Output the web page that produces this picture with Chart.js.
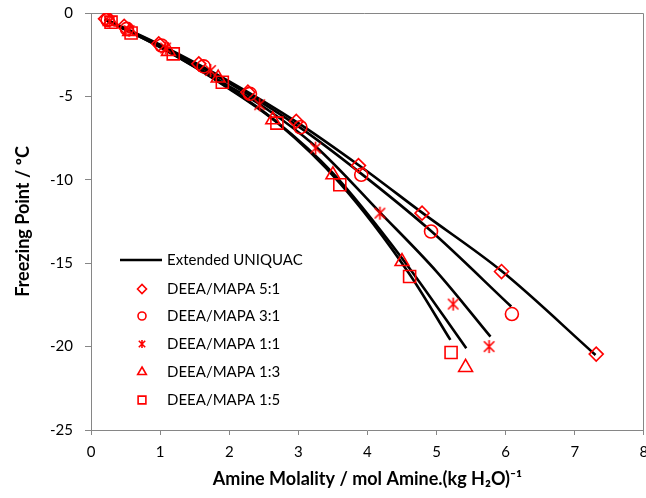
<!DOCTYPE html>
<html>
<head>
<meta charset="utf-8">
<script src="https://cdn.jsdelivr.net/npm/chart.js@4/dist/chart.umd.min.js"></script>
<style>
  html, body { margin: 0; padding: 0; background: #fff; overflow: hidden; }
  #wrap { width: 654px; height: 498px; }
</style>
</head>
<body>
<div id="wrap"><canvas id="chart" width="654" height="498"></canvas></div>
<script>
// Measured points (molality, freezing point)
const x51 = [0.21, 0.48, 0.98, 1.56, 2.27, 2.97, 3.87, 4.79, 5.94, 7.31];
const y51 = [-0.35, -0.8, -1.85, -3.05, -4.75, -6.5, -9.15, -12.0, -15.5, -20.45];
const x31 = [0.24, 0.52, 1.02, 1.63, 2.3, 3.03, 3.91, 4.92, 6.09];
const y31 = [-0.42, -0.95, -1.95, -3.2, -4.85, -6.85, -9.7, -13.1, -18.05];
const x11 = [0.27, 0.55, 1.08, 1.73, 2.44, 3.25, 4.18, 5.24, 5.76];
const y11 = [-0.5, -1.05, -2.1, -3.45, -5.5, -8.1, -12.0, -17.45, -20.0];
const x13 = [0.28, 0.56, 1.12, 1.84, 2.63, 3.5, 4.5, 5.42];
const y13 = [-0.5, -1.1, -2.3, -3.9, -6.4, -9.7, -14.9, -21.25];
const x15 = [0.29, 0.58, 1.19, 1.9, 2.69, 3.6, 4.61, 5.21];
const y15 = [-0.55, -1.2, -2.45, -4.15, -6.6, -10.3, -15.8, -20.35];

// Extended UNIQUAC model curves
const mx51 = [0.2, 1.0, 2.0, 3.0, 3.9, 4.8, 5.95, 7.3];
const my51 = [-0.35, -1.9, -4.1, -6.6, -9.2, -12.0, -15.5, -20.5];
const mx31 = [0.2, 1.0, 2.0, 3.0, 3.9, 4.9, 6.08];
const my31 = [-0.38, -1.95, -4.2, -6.8, -9.6, -13.0, -17.6];
const mx11 = [0.2, 1.0, 2.0, 2.45, 3.25, 4.18, 5.0, 5.78];
const my11 = [-0.4, -2.0, -4.4, -5.5, -8.0, -11.95, -15.5, -19.4];
const mx13 = [0.2, 1.0, 2.0, 2.65, 3.5, 4.5, 5.43];
const my13 = [-0.4, -2.05, -4.5, -6.4, -9.6, -14.7, -20.1];
const mx15 = [0.2, 1.0, 2.0, 2.7, 3.6, 4.6, 5.2];
const my15 = [-0.4, -2.05, -4.55, -6.6, -10.2, -15.6, -19.6];

const seriesNames = ['DEEA/MAPA 5:1', 'DEEA/MAPA 3:1', 'DEEA/MAPA 1:1', 'DEEA/MAPA 1:3', 'DEEA/MAPA 1:5'];
const modelName = 'Extended UNIQUAC';

const red = '#FF0000';
const axisGray = '#868686';

const toPts = (xs, ys) => xs.map((x, i) => ({ x: x, y: ys[i] }));

// Excel-style asterisk marker (X with a vertical bar)
function makeStar(size, lw) {
    const c = document.createElement('canvas');
    c.width = size; c.height = size;
    const g = c.getContext('2d');
    g.strokeStyle = red;
    g.lineWidth = lw;
    const m = size / 2, r = size / 2 - 1;
    g.beginPath();
    g.moveTo(m, m - r); g.lineTo(m, m + r);
    g.moveTo(m - r * 0.8, m - r * 0.8); g.lineTo(m + r * 0.8, m + r * 0.8);
    g.moveTo(m + r * 0.8, m - r * 0.8); g.lineTo(m - r * 0.8, m + r * 0.8);
    g.stroke();
    return c;
}
const starBig = makeStar(15, 1.6);
const starSmall = makeStar(10, 1.6);

const markerStyles = [
    { style: 'rectRot', radius: 7, legendStyle: 'rectRot', legendRadius: 4.5 },
    { style: 'circle', radius: 6.5, legendStyle: 'circle', legendRadius: 4 },
    { style: starBig, radius: 7, legendStyle: starSmall, legendRadius: 4 },
    { style: 'triangle', radius: 8, legendStyle: 'triangle', legendRadius: 5 },
    { style: 'rect', radius: 8.5, legendStyle: 'rect', legendRadius: 5.5 }
];

const measured = [toPts(x51, y51), toPts(x31, y31), toPts(x11, y11), toPts(x13, y13), toPts(x15, y15)];
const model = [toPts(mx51, my51), toPts(mx31, my31), toPts(mx11, my11), toPts(mx13, my13), toPts(mx15, my15)];

const datasets = [];
measured.forEach((pts, i) => {
    datasets.push({
        label: seriesNames[i],
        data: pts,
        showLine: false,
        pointStyle: markerStyles[i].style,
        pointRadius: markerStyles[i].radius,
        pointBorderColor: red,
        pointBackgroundColor: 'rgba(0,0,0,0)',
        pointBorderWidth: 1.6,
        order: 1
    });
});
model.forEach((pts) => {
    datasets.push({
        label: modelName,
        data: pts,
        showLine: true,
        borderColor: '#000',
        borderWidth: 2.6,
        pointRadius: 0,
        cubicInterpolationMode: 'monotone',
        order: 2
    });
});

// top and right frame lines of the plot area
const framePlugin = {
    id: 'frame',
    beforeDatasetsDraw(chart) {
        const a = chart.chartArea;
        const ctx = chart.ctx;
        ctx.save();
        ctx.strokeStyle = axisGray;
        ctx.lineWidth = 1;
        ctx.beginPath();
        ctx.moveTo(Math.round(a.left) - 6, Math.round(a.top) + 0.5);
        ctx.lineTo(Math.round(a.right) - 0.5, Math.round(a.top) + 0.5);
        ctx.lineTo(Math.round(a.right) - 0.5, Math.round(a.bottom));
        ctx.stroke();
        ctx.restore();
    }
};

// legend drawn inside the plot area
const legendPlugin = {
    id: 'insideLegend',
    afterDraw(chart) {
        const ctx = chart.ctx;
        const textX = 167;
        const rows = [260, 289, 316, 344, 372, 400];
        ctx.save();
        ctx.font = '15px Lato, "Open Sans", sans-serif';
        ctx.fillStyle = '#000';
        ctx.textBaseline = 'middle';
        ctx.textAlign = 'left';

        ctx.strokeStyle = '#000';
        ctx.lineWidth = 2.6;
        ctx.beginPath();
        ctx.moveTo(120, rows[0]);
        ctx.lineTo(162, rows[0]);
        ctx.stroke();
        ctx.fillText(modelName, textX, rows[0]);

        seriesNames.forEach((name, i) => {
            const y = rows[i + 1];
            ctx.strokeStyle = red;
            ctx.fillStyle = 'rgba(0,0,0,0)';
            ctx.lineWidth = 1.6;
            Chart.helpers.drawPoint(ctx, {
                pointStyle: markerStyles[i].legendStyle,
                radius: markerStyles[i].legendRadius,
                rotation: 0,
                borderWidth: 1.6
            }, 142, y);
            ctx.fillStyle = '#000';
            ctx.fillText(name, textX, y);
        });
        ctx.restore();
    }
};

const noPadding = () => ({ left: 0, top: 0, right: 0, bottom: 0 });

const tickFont = { family: 'Lato, "Open Sans", sans-serif', size: 15 };
const xTickFont = { family: 'Lato, "Open Sans", sans-serif', size: 15, lineHeight: 2.25 };
const titleFont = { family: 'Lato, "Open Sans", sans-serif', size: 18, weight: 'bold' };

new Chart(document.getElementById('chart').getContext('2d'), {
    type: 'scatter',
    data: { datasets: datasets },
    options: {
        responsive: false,
        animation: false,
        layout: { padding: { top: 13, right: 3, left: 0, bottom: 0 } },
        plugins: {
            legend: { display: false },
            tooltip: { enabled: false }
        },
        scales: {
            x: {
                type: 'linear',
                min: 0,
                max: 8,
                afterFit: (scale) => {
                    scale.height = 68;
                    scale.paddingLeft = 0;
                    scale.paddingRight = 0;
                    scale.getPadding = noPadding;
                },
                ticks: { stepSize: 1, color: '#000', font: xTickFont, padding: 0, maxRotation: 0 },
                grid: { drawOnChartArea: false, drawTicks: true, tickLength: 5, color: axisGray },
                border: { color: axisGray, width: 1 },
                title: {
                    display: true,
                    text: 'Amine Molality / mol Amine.(kg H\u2082O)\u207B\u00B9',
                    color: '#000',
                    font: titleFont,
                    padding: { top: 0, bottom: 8 }
                }
            },
            y: {
                type: 'linear',
                min: -25,
                max: 0,
                afterFit: (scale) => {
                    scale.width = 91;
                    scale.paddingTop = 0;
                    scale.paddingBottom = 0;
                    scale.getPadding = noPadding;
                },
                ticks: { stepSize: 5, color: '#000', font: tickFont, padding: 12 },
                grid: { drawOnChartArea: false, drawTicks: true, tickLength: 6, color: axisGray },
                border: { color: axisGray, width: 1 },
                title: {
                    display: true,
                    text: 'Freezing Point / \u00BAC',
                    color: '#000',
                    font: titleFont,
                    padding: { top: 12, bottom: 0 }
                }
            }
        }
    },
    plugins: [framePlugin, legendPlugin]
});
</script>
</body>
</html>
